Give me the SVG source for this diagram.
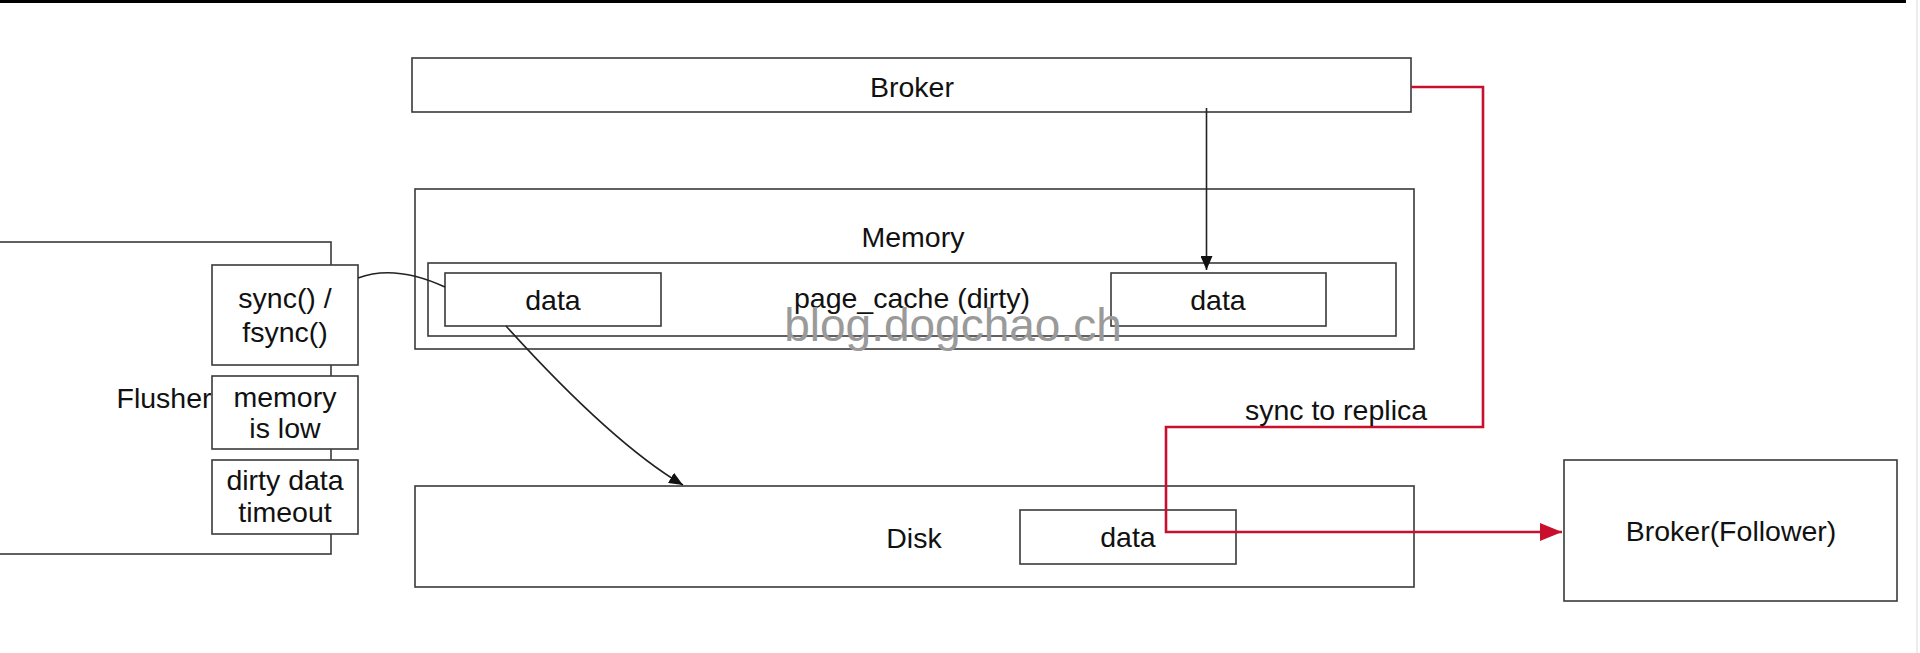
<svg xmlns="http://www.w3.org/2000/svg" width="1920" height="653" viewBox="0 0 1920 653">
<style>
.box{fill:#fff;stroke:#3a3a3a;stroke-width:1.6}
.lbl{font-family:"Liberation Sans",Arial,sans-serif;font-size:28.5px;fill:#111;text-anchor:middle}
.wm{font-family:"Liberation Sans",Arial,sans-serif;font-size:46px;fill:#9a9a9a;text-anchor:middle}
.conn{fill:none;stroke:#222;stroke-width:1.6}
.red{fill:none;stroke:#c8102e;stroke-width:2.6;stroke-linejoin:miter}
</style>
<defs>
<marker id="ab" viewBox="0 0 10 10" refX="10" refY="5" markerWidth="14" markerHeight="12" markerUnits="userSpaceOnUse" orient="auto" preserveAspectRatio="none"><path d="M0,0L10,5L0,10z" fill="#111"/></marker>
<marker id="ar" viewBox="0 0 10 10" refX="10" refY="5" markerWidth="22" markerHeight="18" markerUnits="userSpaceOnUse" orient="auto" preserveAspectRatio="none"><path d="M0,0L10,5L0,10z" fill="#c8102e"/></marker>
</defs>
<rect x="0" y="0" width="1920" height="653" fill="#fff"/>
<rect x="0" y="0" width="1906" height="3" fill="#000"/>
<line x1="1917" y1="0" x2="1917" y2="653" stroke="#e6e6e6" stroke-width="1.5"/>

<g id="flusher">
<rect class="box" x="-10" y="242" width="341" height="312"/>
<text class="lbl" x="164" y="408">Flusher</text>
</g>
<g id="sync">
<rect class="box" x="212" y="265" width="146" height="100"/>
<text class="lbl" x="285" y="308">sync() /</text>
<text class="lbl" x="285" y="342">fsync()</text>
</g>
<g id="memlow">
<rect class="box" x="212" y="376" width="146" height="73"/>
<text class="lbl" x="285" y="407">memory</text>
<text class="lbl" x="285" y="438">is low</text>
</g>
<g id="timeout">
<rect class="box" x="212" y="460" width="146" height="74"/>
<text class="lbl" x="285" y="490">dirty data</text>
<text class="lbl" x="285" y="522">timeout</text>
</g>

<g id="broker">
<rect class="box" x="412" y="58" width="999" height="54"/>
<text class="lbl" x="912" y="97">Broker</text>
</g>
<g id="memory">
<rect class="box" x="415" y="189" width="999" height="160"/>
<text class="lbl" x="913" y="247">Memory</text>
</g>
<g id="pagecache">
<rect class="box" x="428" y="263" width="968" height="73"/>
<text class="lbl" x="912" y="308">page_cache (dirty)</text>
</g>
<g id="data1">
<rect class="box" x="445" y="273" width="216" height="53"/>
<text class="lbl" x="553" y="310">data</text>
</g>
<g id="data2">
<rect class="box" x="1111" y="273" width="215" height="53"/>
<text class="lbl" x="1218" y="310">data</text>
</g>
<g id="watermark">
<text class="wm" x="953" y="341">blog.dogchao.ch</text>
</g>
<g id="disk">
<rect class="box" x="415" y="486" width="999" height="101"/>
<text class="lbl" x="914" y="548">Disk</text>
</g>
<g id="data3">
<rect class="box" x="1020" y="510" width="216" height="54"/>
<text class="lbl" x="1128" y="547">data</text>
</g>
<g id="follower">
<rect class="box" x="1564" y="460" width="333" height="141"/>
<text class="lbl" x="1731" y="541">Broker(Follower)</text>
</g>

<g id="connectors">
<path class="conn" d="M1206.5,108 L1206.5,270" marker-end="url(#ab)"/>
<path class="conn" d="M358,278 Q395,264 445,287"/>
<path class="conn" d="M506,326 C535,358 615,445 683,485" marker-end="url(#ab)"/>
<path class="red" d="M1411,87 L1483,87 L1483,427 L1166,427 L1166,532 L1562,532" marker-end="url(#ar)"/>
<text class="lbl" x="1336" y="420">sync to replica</text>
</g>
</svg>
